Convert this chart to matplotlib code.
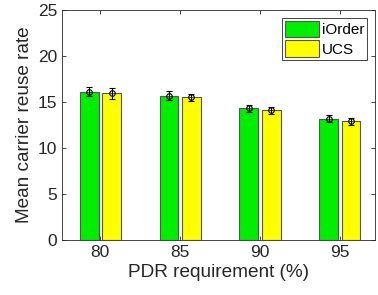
import numpy as np
import matplotlib
matplotlib.use('Agg')
import matplotlib.pyplot as plt

plt.rcParams['font.family'] = ['Liberation Sans', 'DejaVu Sans']

# data
pdr = ['80', '85', '90', '95']
iorder = [16.1, 15.7, 14.3, 13.2]
iorder_err = [0.5, 0.45, 0.4, 0.35]
ucs = [15.95, 15.5, 14.1, 12.9]
ucs_err = [0.6, 0.4, 0.4, 0.4]

x = np.arange(len(pdr))
w = 0.235
off = 0.14

fig = plt.figure(figsize=(3.78, 2.95), dpi=100)
ax = fig.add_axes([62/378, 55/295, 313/378, 230/295])

ax.bar(x - off, iorder, w, color='#00ee00', edgecolor='#555555', linewidth=0.8, label='iOrder')
ax.bar(x + off, ucs, w, color='#ffff00', edgecolor='#555555', linewidth=0.8, label='UCS')
ax.errorbar(x - off, iorder, yerr=iorder_err, fmt='o', color='black', mfc='none',
            ms=4, mew=0.8, elinewidth=0.8, capsize=2)
ax.errorbar(x + off, ucs, yerr=ucs_err, fmt='o', color='black', mfc='none',
            ms=4, mew=0.8, elinewidth=0.8, capsize=2)

ax.set_xlim(-0.48, 3.44)
ax.set_ylim(0, 25)
ax.set_xticks(x)
ax.set_xticklabels(pdr)
ax.set_yticks([0, 5, 10, 15, 20, 25])
ax.tick_params(direction='in', top=True, right=True, labelsize=12.5, colors='#262626',
               length=3, width=0.6)
for s in ax.spines.values():
    s.set_color('#262626')
    s.set_linewidth(0.6)
ax.set_xlabel('PDR requirement (%)', fontsize=13.7, color='#262626', labelpad=3)
ax.set_ylabel('Mean carrier reuse rate', fontsize=13.7, color='#262626', labelpad=3)

leg = ax.legend(loc='upper right', fontsize=11, fancybox=False, framealpha=1,
                edgecolor='#262626', handlelength=2.2, handleheight=1.3,
                borderpad=0.2, labelspacing=0.2, handletextpad=0.2, borderaxespad=0.5)
leg.get_frame().set_linewidth(0.6)

fig.savefig('out.png', dpi=100)
